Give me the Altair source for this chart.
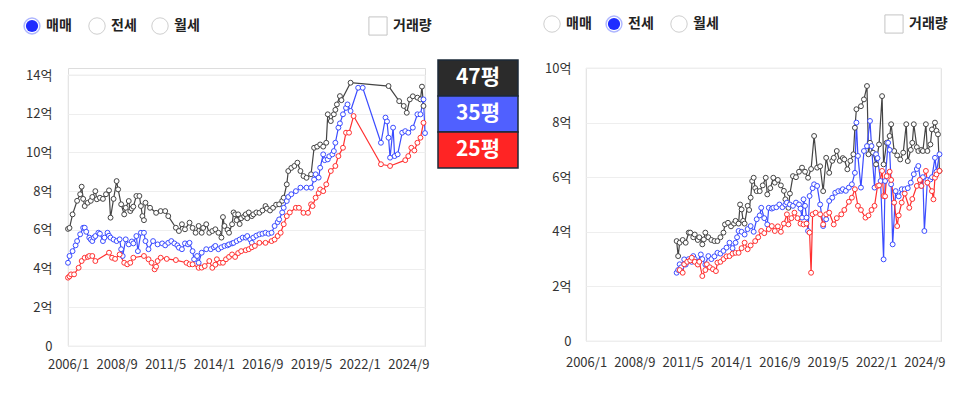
import altair as alt
import pandas as pd

FONT = "Noto Sans CJK KR"

SERIES = ["47평", "35평", "25평"]
LINE_COLORS = ["#444444", "#3b4cff", "#ff3030"]
BOX_COLORS = ["#2b2b2b", "#5060ff", "#ff2424"]

# x = months counted from 2006/1 (0 = 2006/1, 12 = 2007/1, ...)
X_TICKS = [0, 32, 64, 96, 128, 160, 192, 224]

# ---------------- 매매 (sale prices, 억) ----------------
sale47_m = [0, 1, 3, 6, 8, 9, 10, 11, 13, 15, 16, 18, 19, 21, 23, 25, 27, 28, 30, 32, 33, 35, 37, 38, 40, 41, 42, 43, 45, 47, 48, 49, 50, 51, 54, 58, 61, 64, 66, 71, 73, 75, 77, 80, 82, 84, 86, 88, 89, 91, 93, 95, 97, 99, 101, 102, 103, 105, 106, 108, 109, 110, 111, 112, 113, 114, 116, 117, 118, 119, 121, 122, 124, 126, 128, 130, 131, 133, 135, 137, 139, 141, 142, 144, 145, 147, 149, 151, 153, 155, 157, 160, 162, 164, 166, 168, 170, 171, 173, 175, 176, 177, 179, 180, 186, 211, 218, 221, 223, 225, 227, 230, 232, 233, 234]
sale47_v = [6.05, 6.1, 6.8, 7.5, 7.84, 8.23, 7.6, 7.23, 7.4, 7.5, 7.7, 8.0, 7.58, 7.66, 7.6, 7.84, 8.04, 6.63, 7.6, 8.52, 8.09, 7.32, 6.8, 7.14, 7.49, 6.97, 7.1, 7.2, 7.75, 7.75, 7.23, 6.71, 6.5, 7.4, 7.14, 6.88, 6.97, 6.97, 6.71, 6.11, 5.94, 6.29, 6.03, 6.37, 6.1, 5.85, 6.2, 5.85, 6.1, 6.29, 5.85, 5.94, 6.03, 5.85, 5.6, 6.66, 6.2, 6.0, 5.85, 6.29, 6.9, 6.8, 6.5, 6.8, 6.3, 6.6, 6.7, 6.8, 6.6, 6.9, 6.71, 6.8, 6.9, 6.88, 7.0, 7.23, 7.1, 7.0, 7.14, 7.3, 7.32, 7.5, 7.66, 8.35, 9.04, 9.2, 9.3, 9.47, 9.04, 8.78, 8.69, 8.87, 10.24, 10.3, 10.41, 10.3, 10.5, 11.97, 11.62, 11.97, 12.2, 12.48, 12.91, 12.7, 13.6, 13.43, 12.65, 12.4, 12.05, 12.74, 12.9, 12.83, 12.74, 13.4, 12.4]

sale35_m = [0, 1, 3, 5, 6, 8, 10, 11, 12, 14, 15, 16, 17, 18, 20, 21, 23, 24, 26, 27, 28, 30, 32, 34, 35, 36, 38, 40, 42, 43, 45, 46, 48, 50, 51, 53, 56, 59, 62, 64, 66, 68, 70, 72, 73, 75, 77, 79, 80, 82, 83, 85, 86, 88, 91, 94, 96, 97, 99, 101, 103, 105, 106, 108, 109, 111, 113, 115, 117, 118, 120, 121, 122, 124, 126, 128, 130, 132, 134, 136, 138, 139, 141, 142, 144, 145, 147, 150, 153, 157, 160, 162, 163, 165, 166, 168, 169, 171, 172, 174, 175, 176, 178, 179, 181, 183, 184, 186, 191, 194, 206, 209, 210, 211, 212, 214, 215, 217, 220, 222, 224, 227, 230, 232, 234, 235]
sale35_v = [4.3, 4.65, 4.9, 5.2, 5.42, 5.77, 6.11, 6.11, 5.9, 5.6, 5.5, 5.42, 5.6, 5.68, 5.85, 5.8, 5.42, 5.6, 5.85, 5.7, 5.6, 5.5, 5.42, 5.51, 5.0, 4.65, 5.51, 5.25, 5.4, 5.3, 5.68, 4.9, 5.85, 5.85, 5.42, 5.0, 5.42, 5.25, 5.3, 5.2, 5.33, 5.42, 5.3, 5.2, 5.08, 5.0, 5.3, 5.25, 5.33, 4.9, 4.48, 4.65, 4.3, 4.82, 5.0, 5.0, 5.1, 5.17, 5.0, 5.1, 5.17, 5.2, 5.25, 5.3, 5.33, 5.42, 5.5, 5.6, 5.6, 5.68, 5.5, 5.33, 5.6, 5.7, 5.77, 5.8, 5.85, 5.8, 5.85, 6.2, 6.4, 6.54, 6.9, 7.14, 7.49, 7.7, 7.84, 8.0, 8.18, 8.18, 8.18, 8.6, 8.87, 8.7, 9.21, 9.9, 9.6, 9.64, 9.8, 9.9, 10.07, 10.5, 11.28, 11.5, 11.97, 12.3, 12.48, 12.14, 13.34, 13.34, 10.5, 11.8, 11.6, 10.76, 9.73, 11.28, 9.81, 9.9, 11.02, 11.1, 11.02, 11.28, 11.97, 11.97, 12.74, 11.0]

sale25_m = [0, 1, 2, 4, 7, 9, 11, 13, 14, 16, 18, 27, 29, 31, 34, 37, 39, 41, 43, 50, 53, 55, 57, 58, 59, 61, 65, 71, 78, 80, 82, 86, 88, 90, 93, 95, 97, 98, 100, 102, 104, 106, 108, 110, 112, 114, 117, 119, 121, 123, 126, 130, 134, 136, 138, 140, 142, 144, 146, 150, 152, 155, 158, 160, 161, 163, 165, 166, 168, 170, 173, 176, 178, 181, 183, 185, 188, 206, 212, 222, 224, 226, 228, 230, 232, 234]
sale25_v = [3.53, 3.6, 3.7, 3.7, 4.04, 4.39, 4.56, 4.6, 4.65, 4.65, 4.39, 4.82, 4.56, 4.5, 4.73, 4.3, 4.22, 4.3, 4.56, 4.65, 4.48, 4.3, 3.96, 4.1, 4.39, 4.56, 4.5, 4.44, 4.3, 4.22, 4.22, 4.04, 4.05, 4.13, 4.39, 4.04, 4.2, 4.48, 4.3, 4.3, 4.48, 4.6, 4.73, 4.6, 4.8, 4.9, 4.95, 5.0, 5.1, 5.17, 5.33, 5.33, 5.42, 5.5, 5.68, 5.85, 6.29, 6.71, 6.9, 7.14, 7.14, 6.88, 6.88, 7.32, 7.23, 7.66, 7.9, 8.09, 8.0, 8.35, 9.04, 9.3, 9.81, 10.24, 11.02, 11.02, 11.88, 9.39, 9.3, 9.6, 9.81, 10.24, 10.1, 10.5, 10.76, 11.53]

# ---------------- 전세 (jeonse deposits, 억) ----------------
rent47_m = [60, 61, 62, 64, 66, 68, 69, 71, 72, 74, 75, 77, 78, 79, 81, 83, 85, 87, 89, 91, 92, 94, 96, 98, 99, 101, 102, 103, 104, 105, 107, 108, 109, 110, 111, 112, 113, 115, 117, 119, 120, 122, 124, 125, 127, 129, 131, 132, 134, 135, 137, 139, 141, 143, 145, 147, 149, 151, 153, 155, 157, 159, 161, 163, 164, 166, 168, 170, 171, 173, 175, 177, 178, 179, 182, 184, 186, 187, 188, 190, 192, 194, 196, 197, 199, 201, 202, 204, 206, 208, 210, 212, 213, 215, 216, 217, 219, 220, 222, 223, 225, 226, 228, 229, 231, 232, 233, 234]
rent47_v = [3.66, 3.11, 3.6, 3.7, 3.6, 3.97, 3.97, 3.8, 3.9, 3.7, 3.8, 3.54, 3.72, 3.97, 3.8, 3.7, 3.66, 3.66, 3.8, 3.97, 4.27, 4.33, 4.2, 4.3, 4.4, 4.3, 5.0, 4.82, 4.4, 4.3, 4.95, 4.8, 5.25, 5.86, 5.98, 5.6, 5.49, 5.49, 5.7, 5.98, 5.37, 5.6, 5.98, 5.8, 5.9, 5.7, 5.5, 5.19, 4.88, 5.4, 6.04, 6.0, 6.2, 6.35, 6.2, 5.98, 6.3, 7.51, 6.35, 6.4, 5.49, 6.71, 6.16, 6.6, 6.71, 6.96, 6.6, 6.7, 6.65, 6.29, 6.6, 6.84, 7.81, 8.49, 8.6, 8.85, 9.34, 6.84, 7.26, 6.9, 6.47, 7.2, 8.97, 6.47, 7.26, 7.51, 7.94, 6.96, 6.8, 6.65, 6.9, 7.94, 6.59, 7.0, 7.26, 7.94, 7.1, 6.96, 7.0, 6.96, 7.94, 6.96, 7.2, 7.75, 8.0, 7.7, 7.57, 6.23]

rent35_m = [60, 61, 62, 63, 65, 66, 68, 70, 71, 72, 74, 76, 77, 79, 81, 83, 85, 87, 89, 91, 93, 95, 97, 99, 100, 101, 103, 105, 107, 109, 111, 113, 115, 116, 118, 120, 121, 123, 124, 126, 128, 130, 132, 133, 135, 137, 139, 141, 142, 143, 144, 145, 146, 147, 148, 150, 151, 153, 155, 157, 159, 161, 163, 165, 167, 169, 170, 172, 174, 176, 178, 179, 180, 182, 184, 186, 188, 189, 191, 192, 193, 195, 197, 198, 200, 201, 202, 203, 205, 207, 209, 211, 213, 215, 217, 219, 220, 222, 223, 224, 226, 228, 229, 231, 232, 234]
rent35_v = [2.5, 2.6, 2.81, 2.7, 2.99, 2.8, 3.0, 2.9, 3.11, 3.0, 2.9, 3.17, 3.0, 2.8, 3.11, 3.0, 3.1, 3.23, 3.2, 3.3, 3.42, 3.6, 3.4, 3.6, 3.8, 4.03, 4.0, 3.9, 4.1, 4.21, 4.0, 4.46, 4.6, 4.88, 4.5, 4.27, 4.88, 4.85, 4.88, 4.9, 5.0, 4.9, 5.0, 5.07, 5.0, 4.95, 5.07, 5.0, 4.85, 4.52, 5.19, 4.95, 4.52, 4.03, 5.31, 5.6, 5.74, 5.68, 5.0, 4.21, 4.46, 5.13, 5.25, 5.43, 5.49, 5.5, 5.56, 5.5, 5.62, 5.74, 6.16, 8.0, 6.78, 5.62, 6.96, 7.14, 8.06, 7.14, 5.62, 6.84, 6.7, 5.86, 2.99, 5.86, 7.26, 7.0, 5.74, 3.54, 5.49, 5.3, 5.56, 5.56, 5.6, 5.8, 6.11, 6.3, 6.41, 5.68, 6.0, 4.03, 5.9, 5.92, 6.0, 6.71, 6.2, 6.84]

rent25_m = [62, 64, 65, 67, 69, 70, 72, 74, 75, 77, 79, 80, 82, 84, 86, 87, 89, 91, 93, 95, 97, 99, 101, 103, 105, 107, 109, 112, 114, 116, 118, 121, 123, 125, 127, 129, 131, 133, 134, 136, 138, 140, 142, 144, 146, 148, 149, 150, 152, 155, 157, 159, 161, 164, 166, 169, 171, 174, 176, 178, 180, 182, 185, 187, 189, 191, 193, 194, 196, 197, 198, 199, 201, 202, 204, 206, 207, 209, 211, 214, 216, 219, 221, 222, 225, 226, 229, 230, 231, 232, 234]
rent25_v = [2.6, 2.5, 2.81, 2.9, 2.95, 3.05, 2.9, 2.8, 2.9, 2.38, 2.6, 2.81, 2.7, 2.63, 2.56, 2.87, 2.9, 3.0, 3.1, 3.11, 3.2, 3.23, 3.23, 3.4, 3.6, 3.36, 3.5, 3.66, 3.8, 4.03, 3.95, 4.1, 4.21, 4.03, 4.2, 4.0, 4.3, 4.64, 4.27, 4.5, 4.7, 4.5, 4.3, 4.27, 4.3, 3.97, 2.5, 4.64, 4.7, 4.64, 4.27, 4.64, 4.7, 4.27, 4.5, 4.64, 4.8, 5.1, 5.25, 5.56, 4.95, 4.8, 4.52, 4.6, 4.8, 4.95, 5.68, 5.7, 6.23, 5.31, 5.3, 6.04, 6.2, 5.9, 5.07, 4.21, 4.6, 5.07, 5.4, 4.88, 5.2, 5.68, 5.9, 5.68, 6.23, 5.8, 5.49, 5.19, 5.98, 6.1, 6.23]


def table(pairs):
    rows = []
    for name, ms, vs in pairs:
        for m, v in zip(ms, vs):
            rows.append({"s": name, "m": m, "v": v})
    return pd.DataFrame(rows)


sale_df = table([("47평", sale47_m, sale47_v), ("35평", sale35_m, sale35_v), ("25평", sale25_m, sale25_v)])
rent_df = table([("47평", rent47_m, rent47_v), ("35평", rent35_m, rent35_v), ("25평", rent25_m, rent25_v)])

DUMMY = pd.DataFrame({"d": [0]})


def deco():
    return alt.Chart(DUMMY)


def controls(selected, cxs, cy, box_x):
    layers = []
    for i, (lab, cx) in enumerate(zip(["매매", "전세", "월세"], cxs)):
        if i == selected:
            layers.append(deco().mark_point(shape="circle", filled=True, fill="#aeb6ff", opacity=1, size=300)
                          .encode(x=alt.value(cx), y=alt.value(cy)))
            layers.append(deco().mark_point(shape="circle", filled=True, fill="#ffffff", opacity=1, size=210)
                          .encode(x=alt.value(cx), y=alt.value(cy)))
            layers.append(deco().mark_point(shape="circle", filled=True, fill="#1f2cff", opacity=1, size=150)
                          .encode(x=alt.value(cx), y=alt.value(cy)))
        else:
            layers.append(deco().mark_point(shape="circle", filled=False, fill="#ffffff", fillOpacity=1,
                                            stroke="#cfcfcf", strokeWidth=1, opacity=1, size=270)
                          .encode(x=alt.value(cx), y=alt.value(cy)))
        layers.append(deco().mark_text(align="left", baseline="middle", font=FONT, fontSize=14,
                                       fontWeight="bold", color="#222222")
                      .encode(x=alt.value(cx + 14), y=alt.value(cy), text=alt.value(lab)))
    layers.append(deco().mark_point(shape="square", filled=False, fill="#ffffff", fillOpacity=1,
                                    stroke="#c4c4c4", strokeWidth=1, opacity=1, size=330)
                  .encode(x=alt.value(box_x), y=alt.value(cy)))
    layers.append(deco().mark_text(align="left", baseline="middle", font=FONT, fontSize=14,
                                   fontWeight="bold", color="#222222")
                  .encode(x=alt.value(box_x + 15), y=alt.value(cy), text=alt.value("거래량")))
    return layers


def anchor(x, y):
    return deco().mark_point(shape="circle", filled=True, opacity=0, size=1).encode(
        x=alt.value(x), y=alt.value(y))


def frame(w, top, bottom):
    return deco().mark_rect(fillOpacity=0, stroke="#eeeeee", strokeWidth=1).encode(
        x=alt.value(0), x2=alt.value(w), y=alt.value(top), y2=alt.value(bottom))


def panel(df, ymax, dom_top, width, height, frame_top, x_pad, y_pad):
    x = alt.X("m:Q", scale=alt.Scale(domain=[0, 235], nice=False, zero=False),
              axis=alt.Axis(values=X_TICKS, title=None, grid=False, ticks=False, domain=False,
                            labelExpr="(floor(datum.value / 12) + 2006) + '/' + (datum.value % 12 + 1)",
                            labelFont=FONT, labelFontSize=13, labelColor="#333333",
                            labelPadding=x_pad, labelOverlap=False, labelFlush=False))
    y = alt.Y("v:Q", scale=alt.Scale(domain=[0, dom_top], nice=False),
              axis=alt.Axis(values=list(range(0, ymax + 1, 2)), title=None, grid=True,
                            gridColor="#eeeeee", ticks=False, domain=False,
                            labelExpr="datum.value == 0 ? '0' : datum.value + '억'",
                            labelFont=FONT, labelFontSize=13, labelColor="#333333",
                            labelPadding=y_pad))
    color = alt.Color("s:N", scale=alt.Scale(domain=SERIES, range=LINE_COLORS), legend=None)
    base = alt.Chart(df)
    lines = base.mark_line(strokeWidth=1.2).encode(x=x, y=y, color=color, order="m:Q")
    pts = base.mark_point(shape="circle", filled=False, fill="#ffffff", fillOpacity=1,
                          strokeWidth=1, size=24, opacity=1).encode(x=x, y=y, color=color)
    return [frame(width, frame_top, height), lines, pts]


# both panels share the same top origin; the 매매 panel's 14억 line sits 7px lower
# ---- left panel: 매매 ----
L_W, L_H = 357, 278
left_layers = panel(sale_df, 14, 14 * L_H / 271, L_W, L_H, 7, 12, 16)
left_layers += controls(0, [-36, 29, 92], -42, 310)
# size legend boxes
box_tops = [-8, 28, 64]
for name, col, top in zip(SERIES, BOX_COLORS, box_tops):
    left_layers.append(deco().mark_rect(fill=col, stroke="#1d2a38", strokeWidth=1.5)
                       .encode(x=alt.value(370), x2=alt.value(450), y=alt.value(top), y2=alt.value(top + 36)))
    left_layers.append(deco().mark_text(align="center", baseline="middle", font=FONT, fontSize=21,
                                        fontWeight="bold", color="#ffffff")
                       .encode(x=alt.value(410), y=alt.value(top + 18), text=alt.value(name)))
left_layers.append(anchor(-52, -57))
left_layers.append(anchor(458, -57))
left = alt.layer(*left_layers).properties(width=L_W, height=L_H)

# ---- right panel: 전세 ----
R_W, R_H = 355, 273
right_layers = panel(rent_df, 10, 10, R_W, R_H, 0, 15, 15)
right_layers += controls(1, [-34, 28, 93], -44, 308)
right_layers.append(anchor(-53, -57))
right = alt.layer(*right_layers).properties(width=R_W, height=R_H)

chart = (
    alt.hconcat(left, right, spacing=5)
    .properties(padding={"left": 7, "top": 2, "right": 5, "bottom": 5})
    .configure_view(stroke="transparent")
    .configure(font=FONT)
)

chart.save("out.html", embed_options={"renderer": "svg", "actions": False})
